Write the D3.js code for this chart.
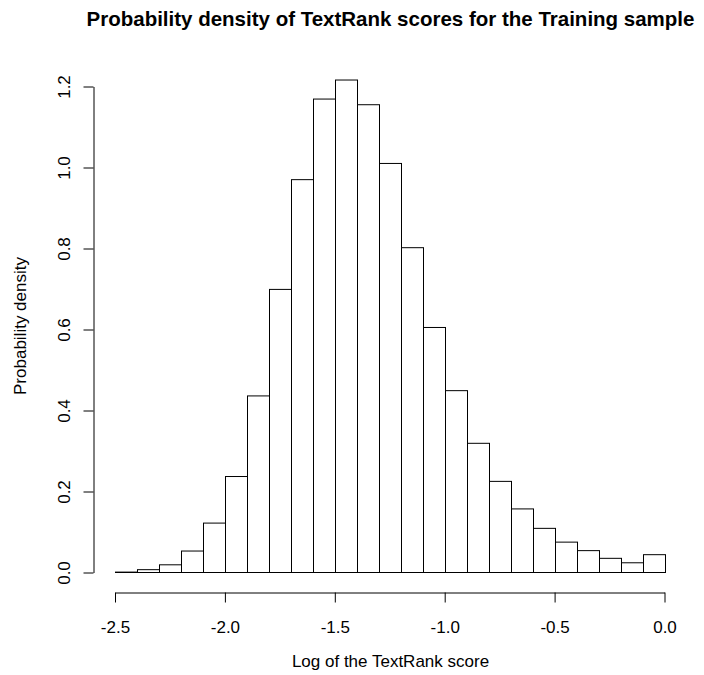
<!DOCTYPE html>
<html>
<head>
<meta charset="utf-8">
<script src="https://cdn.jsdelivr.net/npm/d3@7"></script>
<style>
  body { margin: 0; background: #fff; }
  svg { display: block; font-family: "Liberation Sans", Arial, Helvetica, sans-serif; }
</style>
</head>
<body>
<div id="chart"></div>
<script>
// Histogram bins (width 0.1) and their densities
var binStarts = [-2.5, -2.4, -2.3, -2.2, -2.1, -2.0, -1.9, -1.8, -1.7, -1.6, -1.5, -1.4, -1.3,
                 -1.2, -1.1, -1.0, -0.9, -0.8, -0.7, -0.6, -0.5, -0.4, -0.3, -0.2, -0.1];
var densities = [0.001, 0.007, 0.019, 0.053, 0.122, 0.237, 0.436, 0.699, 0.970, 1.169, 1.216, 1.155, 1.010,
                 0.802, 0.605, 0.449, 0.319, 0.225, 0.157, 0.109, 0.075, 0.054, 0.035, 0.024, 0.044];
var binWidth = 0.1;
var xTicks = [-2.5, -2.0, -1.5, -1.0, -0.5, 0.0];
var yTicks = [0.0, 0.2, 0.4, 0.6, 0.8, 1.0, 1.2];

var width = 704, height = 675;

var svg = d3.select('#chart').append('svg')
    .attr('width', width)
    .attr('height', height);

// Scales
var x = d3.scaleLinear().domain([-2.5, 0]).range([115, 664.5]);
var y = d3.scaleLinear().domain([0, 1.2]).range([572.5, 86.5]);

var axisX = 592.5, // where R puts the axis lines (plot box edge)
    axisY = 93.5,
    plotMid = 390.5; // centre of the plot region, titles sit on it

// R prints plain hyphens, not unicode minus
var fmt = function(d) { return d.toFixed(1); };

// Bars
svg.append('g')
    .selectAll('rect')
    .data(binStarts)
    .enter().append('rect')
    .attr('x', function(d) { return Math.round(x(d)) + 0.5; })
    .attr('y', function(d, i) { return y(densities[i]); })
    .attr('width', function(d) { return Math.round(x(d + binWidth)) - Math.round(x(d)); })
    .attr('height', function(d, i) { return y(0) - y(densities[i]); })
    .attr('fill', '#ffffff')
    .attr('stroke', '#000000')
    .attr('stroke-width', 1);

// X axis
var gx = svg.append('g')
    .attr('transform', 'translate(0,' + axisX + ')')
    .call(d3.axisBottom(x)
        .tickValues(xTicks)
        .tickSize(10)
        .tickSizeOuter(0)
        .tickFormat(fmt));

gx.selectAll('text')
    .attr('y', 0)
    .attr('dy', 0)
    .attr('transform', 'translate(0,40)');

// Y axis
var gy = svg.append('g')
    .attr('transform', 'translate(' + axisY + ',0)')
    .call(d3.axisLeft(y)
        .tickValues(yTicks)
        .tickSize(10)
        .tickSizeOuter(0)
        .tickFormat(fmt));

gy.selectAll('text')
    .attr('x', 0)
    .attr('dy', 0)
    .attr('text-anchor', 'middle')
    .attr('transform', 'translate(-24,0) rotate(-90)');

// Axis styling to look like base R
svg.selectAll('.domain, .tick line')
    .attr('stroke', '#000000')
    .attr('stroke-width', 1);
svg.selectAll('.tick text')
    .attr('fill', '#000000')
    .style('font-size', '17px')
    .style('font-family', '"Liberation Sans", Arial, Helvetica, sans-serif');

// Titles
svg.append('text')
    .attr('x', plotMid).attr('y', 26)
    .attr('text-anchor', 'middle')
    .style('font-size', '20.5px')
    .style('font-weight', 'bold')
    .text('Probability density of TextRank scores for the Training sample');

svg.append('text')
    .attr('x', plotMid).attr('y', 667)
    .attr('text-anchor', 'middle')
    .style('font-size', '17px')
    .text('Log of the TextRank score');

svg.append('text')
    .attr('transform', 'translate(26,326) rotate(-90)')
    .attr('text-anchor', 'middle')
    .style('font-size', '17px')
    .text('Probability density');
</script>
</body>
</html>
